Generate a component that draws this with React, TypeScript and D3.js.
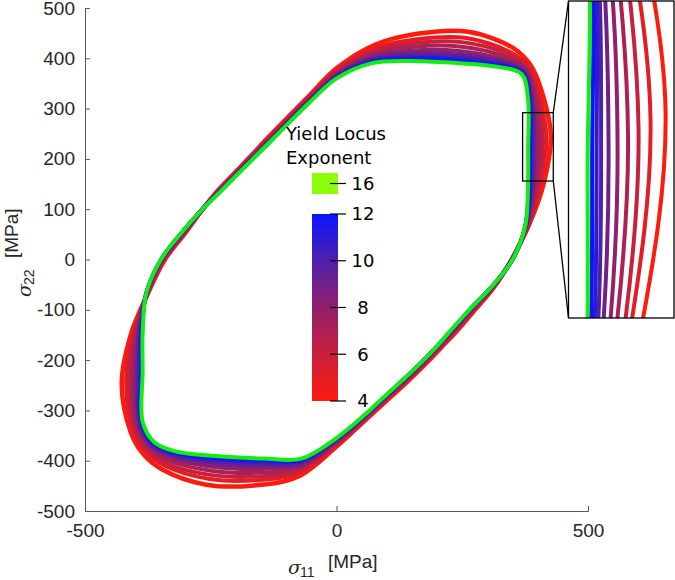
import React, { useEffect, useRef } from 'react';
import * as d3 from 'd3';

// polar sampling of each yield locus (degrees from the sigma_11 axis)
const angles = [0, 10, 20, 30, 40, 45, 50, 60, 70, 80, 90, 100, 110, 120, 130, 140, 150, 160, 170, 180,
  190, 200, 210, 220, 225, 230, 240, 250, 260, 270, 280, 290, 300, 310, 320, 330, 340, 350];

const exponents = [4, 5, 6, 7, 8, 9, 10, 11, 12, 16];

// radius of the locus [MPa] at each angle, one array per exponent
const radius4 = [348, 388, 438, 492, 530, 546, 548, 523, 478, 433, 380, 328, 296, 277, 267, 266, 273, 285, 305, 341,
  380, 435, 493, 534, 545, 543, 517, 478, 438, 372, 325, 297, 281, 273, 272, 279, 293, 318];
const radius5 = [348, 387, 431, 482, 523, 541, 538, 509, 466, 426, 376, 326, 294, 275, 266, 265, 272, 285, 306, 343,
  381, 430, 483, 528, 539, 534, 504, 467, 431, 369, 323, 295, 279, 271, 270, 277, 291, 317];
const radius6 = [349, 386, 427, 474, 519, 538, 532, 499, 458, 420, 373, 324, 293, 274, 265, 264, 271, 285, 307, 344,
  381, 427, 477, 524, 534, 528, 495, 459, 426, 366, 322, 294, 278, 270, 269, 276, 290, 316];
const radius7 = [349, 385, 422, 467, 514, 534, 525, 489, 450, 415, 370, 322, 291, 273, 264, 263, 271, 285, 308, 345,
  382, 423, 470, 519, 530, 521, 486, 451, 421, 364, 320, 292, 277, 269, 268, 274, 289, 316];
const radius8 = [349, 384, 418, 460, 510, 531, 518, 479, 442, 410, 368, 321, 290, 271, 263, 262, 270, 286, 309, 346,
  383, 420, 463, 515, 525, 515, 477, 443, 416, 361, 319, 291, 275, 268, 267, 273, 287, 315];
const radius9 = [349, 383, 414, 454, 506, 528, 513, 471, 436, 406, 365, 319, 289, 270, 262, 262, 269, 286, 310, 347,
  383, 417, 458, 511, 522, 510, 470, 436, 412, 360, 318, 290, 274, 267, 266, 272, 286, 314];
const radius10 = [350, 382, 411, 449, 503, 526, 509, 465, 430, 403, 364, 318, 288, 270, 261, 261, 269, 286, 311, 348,
  383, 415, 454, 509, 519, 506, 464, 431, 409, 358, 317, 289, 274, 266, 265, 271, 286, 314];
const radius11 = [350, 382, 409, 446, 501, 524, 505, 460, 426, 400, 362, 317, 287, 269, 261, 261, 269, 286, 311, 348,
  384, 413, 450, 506, 517, 503, 459, 427, 406, 357, 316, 288, 273, 266, 265, 270, 285, 314];
const radius12 = [350, 381, 407, 443, 499, 522, 502, 456, 423, 398, 361, 317, 287, 268, 260, 260, 268, 286, 312, 349,
  384, 411, 447, 505, 515, 500, 455, 424, 404, 356, 316, 288, 272, 265, 264, 270, 284, 313];
const radius16 = [350, 381, 405, 440, 497, 521, 500, 452, 420, 396, 360, 316, 286, 268, 260, 260, 268, 286, 312, 349,
  384, 410, 445, 503, 513, 498, 452, 421, 402, 355, 315, 287, 272, 265, 264, 269, 284, 313];

const radii: Record<number, number[]> = {
  4: radius4, 5: radius5, 6: radius6, 7: radius7, 8: radius8,
  9: radius9, 10: radius10, 11: radius11, 12: radius12, 16: radius16,
};

// colour bar for exponents 4..12, the exponent 16 locus gets its own swatch
const barTicks = [4, 6, 8, 10, 12];
const barColors = ['#ff1a0d', '#c8203c', '#92206a', '#4e20ac', '#0a14ff'];
const topExponent = 16;
const topLineColor = '#12ee12';
const topSwatchColor = '#8cff0a';

const xTicks = [-500, 0, 500];
const yTicks = [500, 400, 300, 200, 100, 0, -100, -200, -300, -400, -500];

// zoomed window [sigma_11 range, sigma_22 range]
const zoomX = [370, 431];
const zoomY = [156, 292];

const App = () => {
  const ref = useRef<SVGSVGElement | null>(null);

  useEffect(() => {
    const svg = d3.select(ref.current);
    svg.selectAll('*').remove();

    const x = d3.scaleLinear().domain([-500, 500]).range([85, 588]);
    const y = d3.scaleLinear().domain([-500, 500]).range([511, 8]);
    const color = d3.scaleLinear<string>().domain(barTicks).range(barColors);
    const strokeOf = (e: number) => (e === topExponent ? topLineColor : color(e));

    const toXY = (r: number[]) => r.map((v, i) => {
      const a = (angles[i] * Math.PI) / 180;
      return [v * Math.cos(a), v * Math.sin(a)] as [number, number];
    });

    const axisColor = '#595959';
    const tickFont = "'Liberation Sans', Arial, sans-serif";
    const plain = (d: d3.NumberValue) => String(d);

    // axes (left and bottom only)
    const gy = svg.append('g').attr('transform', 'translate(85,0)');
    gy.call(d3.axisLeft(y).tickValues(yTicks).tickFormat(plain).tickSize(-5).tickPadding(10));
    const gx = svg.append('g').attr('transform', 'translate(0,511)');
    gx.call(d3.axisBottom(x).tickValues(xTicks).tickFormat(plain).tickSize(-5).tickPadding(13));
    [gx, gy].forEach(g => {
      g.select('.domain').attr('stroke', axisColor).attr('stroke-width', 1);
      g.selectAll('.tick line').attr('stroke', axisColor);
      g.selectAll('.tick text')
        .attr('fill', '#262626')
        .style('font-family', tickFont)
        .style('font-size', '19px');
    });

    // yield loci
    const line = d3.line<[number, number]>()
      .x(d => x(d[0]))
      .y(d => y(d[1]))
      .curve(d3.curveCatmullRomClosed.alpha(0.5));

    const loci = svg.append('g');
    exponents.forEach(e => {
      loci.append('path')
        .attr('d', line(toXY(radii[e])))
        .attr('fill', 'none')
        .attr('stroke', strokeOf(e))
        .attr('stroke-width', e === 4 ? 4.5 : 4)
        .attr('stroke-linejoin', 'round');
    });

    // zoom window and magnified inset
    const box = { x0: 568.5, y0: 1, x1: 674, y1: 318 };
    const xi = d3.scaleLinear().domain(zoomX).range([box.x0, box.x1]);
    const yi = d3.scaleLinear().domain(zoomY).range([box.y1, box.y0]);

    svg.append('rect')
      .attr('x', x(zoomX[0])).attr('y', y(zoomY[1]))
      .attr('width', x(zoomX[1]) - x(zoomX[0]))
      .attr('height', y(zoomY[0]) - y(zoomY[1]))
      .attr('fill', 'none').attr('stroke', '#000').attr('stroke-width', 1.3);

    svg.append('line')
      .attr('x1', x(zoomX[1])).attr('y1', y(zoomY[1]))
      .attr('x2', box.x0).attr('y2', box.y0)
      .attr('stroke', '#000').attr('stroke-width', 1.3);
    svg.append('line')
      .attr('x1', x(zoomX[1])).attr('y1', y(zoomY[0]))
      .attr('x2', box.x0).attr('y2', box.y1)
      .attr('stroke', '#000').attr('stroke-width', 1.3);

    svg.append('clipPath').attr('id', 'inset-clip')
      .append('rect')
      .attr('x', box.x0).attr('y', box.y0)
      .attr('width', box.x1 - box.x0).attr('height', box.y1 - box.y0);

    svg.append('rect')
      .attr('x', box.x0).attr('y', box.y0)
      .attr('width', box.x1 - box.x0).attr('height', box.y1 - box.y0)
      .attr('fill', '#fff');

    const lineInset = d3.line<[number, number]>()
      .x(d => xi(d[0]))
      .y(d => yi(d[1]))
      .curve(d3.curveCatmullRomClosed.alpha(0.5));

    const inset = svg.append('g').attr('clip-path', 'url(#inset-clip)');
    exponents.forEach(e => {
      inset.append('path')
        .attr('d', lineInset(toXY(radii[e])))
        .attr('fill', 'none')
        .attr('stroke', strokeOf(e))
        .attr('stroke-width', 4);
    });

    svg.append('rect')
      .attr('x', box.x0).attr('y', box.y0)
      .attr('width', box.x1 - box.x0).attr('height', box.y1 - box.y0)
      .attr('fill', 'none').attr('stroke', '#000').attr('stroke-width', 1.3);

    // colour legend
    const legendFont = "'DejaVu Sans', Verdana, sans-serif";
    const ly = d3.scaleLinear().domain([4, 12]).range([401, 214]);
    const barX = 312;
    const barW = 26;

    const grad = svg.append('defs').append('linearGradient')
      .attr('id', 'exp-grad')
      .attr('x1', 0).attr('y1', 1).attr('x2', 0).attr('y2', 0);
    barTicks.forEach((t, i) => {
      grad.append('stop')
        .attr('offset', (t - 4) / 8)
        .attr('stop-color', barColors[i]);
    });

    svg.append('rect')
      .attr('x', barX).attr('y', ly(12))
      .attr('width', barW).attr('height', ly(4) - ly(12))
      .attr('fill', 'url(#exp-grad)');

    const topY = 183.5;
    svg.append('rect')
      .attr('x', barX).attr('y', topY - 10.5)
      .attr('width', barW).attr('height', 21)
      .attr('fill', topSwatchColor);

    const legendTicks = [...barTicks.map(t => ({ v: t, py: ly(t) })), { v: topExponent, py: topY }];
    legendTicks.forEach(t => {
      svg.append('line')
        .attr('x1', 330).attr('x2', 346)
        .attr('y1', t.py).attr('y2', t.py)
        .attr('stroke', '#000').attr('stroke-width', 1.2);
      svg.append('text')
        .attr('x', 363).attr('y', t.py)
        .attr('dy', '0.36em')
        .attr('text-anchor', 'middle')
        .style('font-family', legendFont)
        .style('font-size', '18px')
        .attr('fill', '#000')
        .text(t.v);
    });

    svg.append('text')
      .attr('x', 286).attr('y', 140)
      .style('font-family', legendFont).style('font-size', '18px')
      .text('Yield Locus');
    svg.append('text')
      .attr('x', 286).attr('y', 164)
      .style('font-family', legendFont).style('font-size', '18px')
      .text('Exponent');

    // axis titles
    const xl = svg.append('text')
      .attr('fill', '#262626')
      .style('font-family', tickFont)
      .style('font-size', '19px');
    xl.append('tspan').attr('x', 288).attr('y', 574)
      .style('font-family', "'DejaVu Serif', serif").style('font-style', 'italic')
      .text('σ');
    xl.append('tspan').attr('x', 300).attr('y', 577).style('font-size', '14px').text('11');
    xl.append('tspan').attr('x', 328).attr('y', 568).text('[MPa]');

    const yl = svg.append('text')
      .attr('fill', '#262626')
      .attr('transform', 'rotate(-90)')
      .style('font-family', tickFont)
      .style('font-size', '19px');
    yl.append('tspan').attr('x', -297).attr('y', 31)
      .style('font-family', "'DejaVu Serif', serif").style('font-style', 'italic')
      .text('σ');
    yl.append('tspan').attr('x', -285).attr('y', 34).style('font-size', '14px').text('22');
    yl.append('tspan').attr('x', -258).attr('y', 18).text('[MPa]');
  }, []);

  return (
    <svg
      ref={ref}
      width={675}
      height={580}
      style={{ position: 'absolute', left: 0, top: 0, background: '#fff' }}
    />
  );
};

export default App;
